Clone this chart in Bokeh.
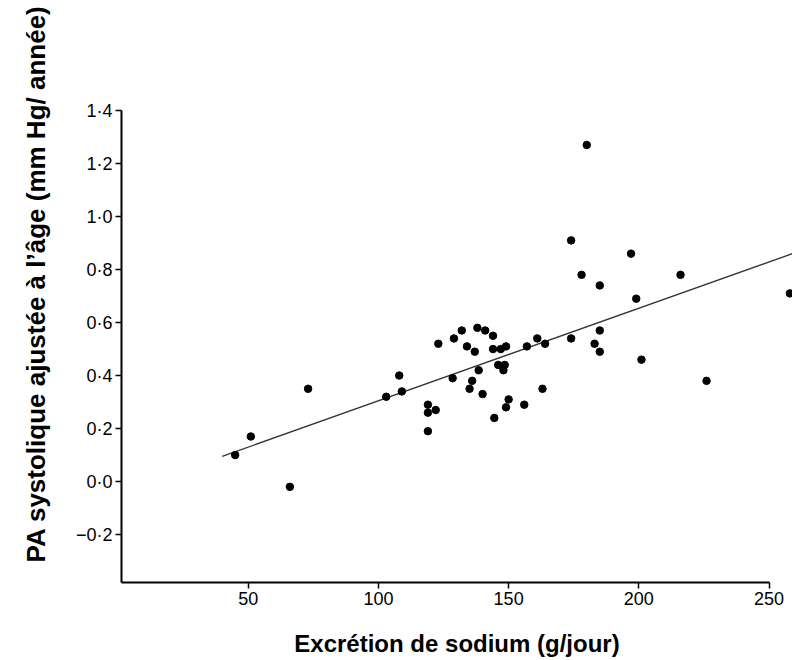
from bokeh.plotting import figure
from bokeh.models import FixedTicker, CustomJSTickFormatter, Range1d, Title
from bokeh.embed import file_html
from bokeh.resources import INLINE

# Data
sodium = [45, 51, 66, 73, 103, 108, 109, 119, 119, 122, 119, 123, 129, 132, 134, 137,
          128.5, 136, 135, 138.5, 140, 138, 141, 144, 144, 147, 149, 146, 148, 148.5,
          150, 149, 144.5, 156, 157, 161, 164, 163, 180, 174, 197, 178, 185, 216,
          199, 258, 185, 174, 183, 185, 201, 226]
pa_slope = [0.10, 0.17, -0.02, 0.35, 0.32, 0.40, 0.34, 0.29, 0.26, 0.27, 0.19, 0.52,
            0.54, 0.57, 0.51, 0.49, 0.39, 0.38, 0.35, 0.42, 0.33, 0.58, 0.57, 0.55,
            0.50, 0.50, 0.51, 0.44, 0.42, 0.44, 0.31, 0.28, 0.24, 0.29, 0.51, 0.54,
            0.52, 0.35, 1.27, 0.91, 0.86, 0.78, 0.74, 0.78, 0.69, 0.71, 0.57, 0.54,
            0.52, 0.49, 0.46, 0.38]
fit_x = [40, 259]
fit_y = [0.095, 0.86]

x_ticks = [50, 100, 150, 200, 250]
y_ticks = [-0.2, 0.0, 0.2, 0.4, 0.6, 0.8, 1.0, 1.2, 1.4]
y_tick_labels = ["\u22120\u00b72", "0\u00b70", "0\u00b72", "0\u00b74", "0\u00b76",
                 "0\u00b78", "1\u00b70", "1\u00b72", "1\u00b74"]

FONT = "Liberation Sans"

p = figure(width=792, height=660, output_backend="svg", toolbar_location=None,
           x_range=Range1d(1.35, 259.0), y_range=Range1d(-0.381, 1.419),
           min_border_left=121, min_border_right=0, min_border_top=105,
           min_border_bottom=78)
p.outline_line_color = None
p.grid.visible = False
p.background_fill_color = "white"

p.line(fit_x, fit_y, line_color="#333333", line_width=1.3)
p.scatter(sodium, pa_slope, size=7.5, fill_color="black", line_color="black")

xa = p.xaxis[0]
xa.ticker = FixedTicker(ticks=x_ticks)
xa.bounds = (1.35, 250)
xa.axis_label = "Excrétion de sodium (g/jour)"
xa.axis_label_text_font = FONT
xa.axis_label_text_font_style = "bold"
xa.axis_label_text_font_size = "24px"
xa.axis_label_standoff = 22
xa.major_label_text_font = FONT
xa.major_label_text_font_size = "18px"
xa.major_label_standoff = 3

ya = p.yaxis[0]
ya.ticker = FixedTicker(ticks=y_ticks)
ya.bounds = (-0.381, 1.4)
ya.formatter = CustomJSTickFormatter(args=dict(tvals=y_ticks, tlabels=y_tick_labels), code="""
    let best = 0;
    for (let i = 0; i < tvals.length; i++) {
        if (Math.abs(tvals[i] - tick) < Math.abs(tvals[best] - tick)) best = i;
    }
    return tlabels[best];
""")
ya.major_label_text_font = FONT
ya.major_label_text_font_size = "18px"
ya.major_label_standoff = 3

for ax in (xa, ya):
    ax.axis_line_width = 2
    ax.axis_line_color = "black"
    ax.major_tick_line_width = 1.5
    ax.major_tick_line_color = "black"
    ax.major_tick_out = 6
    ax.major_tick_in = 0
    ax.minor_tick_line_color = None
    ax.major_label_text_color = "black"
    ax.axis_label_text_color = "black"

ytitle = Title(text="PA systolique ajustée à l\u2019âge (mm Hg/ année)",
               align="left", offset=20, standoff=40, vertical_align="top",
               text_font=FONT, text_font_size="26px", text_font_style="bold",
               text_color="black")
p.add_layout(ytitle, "left")

open("out.html", "w").write(file_html(p, INLINE))
